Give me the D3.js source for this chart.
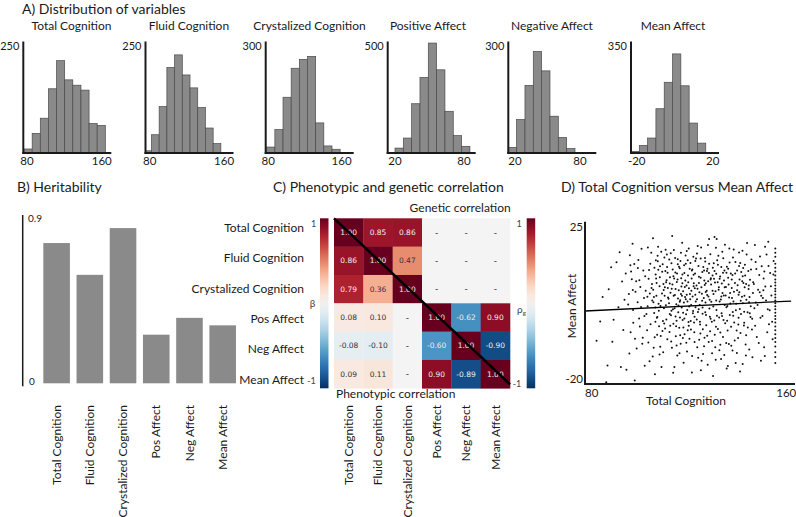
<!DOCTYPE html>
<html><head><meta charset="utf-8">
<script src="https://cdn.jsdelivr.net/npm/d3@7"></script>
<style>
body{margin:0;background:#fff}
svg{display:block}
text{font-family:Lato,"Open Sans",sans-serif;fill:#1a1a1a}
</style>
</head><body>
<svg id="chart" width="796" height="517"></svg>
<script>
// ---------------- DATA ----------------
const histTitles = ["Total Cognition","Fluid Cognition","Crystalized Cognition","Positive Affect","Negative Affect","Mean Affect"];
const histTickLabels = [[80,160],[80,160],[80,160],[20,80],[20,80],[-20,20]];
const histYMax = [250,250,300,500,300,350];
const histDomains = [[76,170.2],[75.4,170.1],[77.2,173.2],[13.65,90.2],[13.8,95.1],[-23,23.3]];
const histBinStart = [76.8,73.5,78.3,20,13.8,-23];
const histBinWidth = [8.7,8.3,8.9,7.24,7.7,4.37];
const histCounts = [
  [9,44,78,144,207,164,152,141,66,62],
  [5,41,104,192,220,175,146,102,56,21],
  [16,63,150,228,252,260,81,19,10],
  [22,67,221,339,493,373,187,78,30],
  [15,90,182,273,221,99,42,12],
  [5,24,47,139,222,311,211,94,31]
];

const heritLabels = ["Total Cognition","Fluid Cognition","Crystalized Cognition","Pos Affect","Neg Affect","Mean Affect"];
const heritValues = [0.75,0.58,0.83,0.26,0.35,0.31];
const heritTicks = [0,0.9];

const corrRowLabels = ["Total Cognition","Fluid Cognition","Crystalized Cognition","Pos Affect","Neg Affect","Mean Affect"];
const corrColLabels = ["Total Cognition","Fluid Cognition","Crystalized Cognition","Pos Affect","Neg Affect","Mean Affect"];
// upper triangle: genetic correlation, lower triangle: phenotypic correlation, null = "-"
const corrMatrix = [
  [1.00, 0.85, 0.86, null, null, null],
  [0.86, 1.00, 0.47, null, null, null],
  [0.79, 0.36, 1.00, null, null, null],
  [0.08, 0.10, null, 1.00, -0.62, 0.90],
  [-0.08, -0.10, null, -0.60, 1.00, -0.90],
  [0.09, 0.11, null, 0.90, -0.89, 1.00]
];

const scatterXTicks = [80,160];
const scatterYTicks = [25,-20];
const regression = {x0: 80, intercept: 0.19, slope: 0.0347};
const scatterPoints = [
[82,-8.7],[84.5,4.2],[83.5,-3],
[86,-21],[86.5,-16],[87,6.5],[88,13],[89,-2.5],[90.2,14.5],[91,1.2],[92,-16.5],[92.5,8.8],[93,-5.5],[93.5,3.4],[94,11.2],[88.5,-9],[91.5,17.5],
[94.3,-17.3],[95,2],[95.7,16.6],[96,-6.2],[96.5,9.5],[97,0.4],[97.7,-20.5],[98,5.8],[98.5,-11],[99,12.8],[99.5,-2.1],[100,7.2],[100.5,18.5],[101,-7.8],[101.5,3.9],[101.8,-16.1],[102,10.4],[102.5,-0.8],[95.5,-12.5],[97.5,14],[99.8,-4.5],[102.2,6.1],[96.8,20],
[103,1.5],[103.3,-9.2],[103.6,12.2],[103.9,5.3],[104.2,-3.8],[104.5,17.3],[104.8,8.1],[105.1,-13.4],[105.4,2.7],[105.7,-0.5],[106,-18.6],[106.3,10.9],[106.6,4.6],[106.9,-6.9],[107.2,14.8],[107.3,19.1],[107.6,0.2],[107.9,7.4],[108.2,-10.5],[108.5,3.1],[108.7,-16.5],[109,11.7],[109.3,-2.9],[109.6,6.3],[109.9,15.9],[110.2,-5.1],[110.5,1.8],[110.8,9.2],[111.1,-8.3],[111.4,4.1],[103.8,-14.8],[105.2,21.6],[106.8,-1.9],[108.1,13.3],[109.4,-12.1],[110.6,8.6],[104.6,6.9],[107.7,-4.4],[110.9,16.8],[105.9,-7.7],
[111.8,2.4],[112,-6.1],[112.2,10.1],[112.4,5.5],[112.6,-1.2],[112.8,14.2],[113,-10.8],[113.2,7.9],[113.4,0.6],[113.6,-3.7],[113.8,18.1],[114,-16.5],[114.2,4.8],[114.4,11.5],[114.6,-7.4],[114.8,2.1],[115,8.7],[115.2,-13.1],[115.4,15.4],[115.6,-0.3],[115.8,6.2],[116,-4.9],[116.2,12.7],[116.4,3.3],[116.6,-9.6],[116.8,9.8],[117,1.1],[117.2,20.3],[117.4,-2.6],[117.6,5.9],[117.8,-15.2],[118,13.6],[118.2,-6.8],[118.4,4.2],[118.6,16.5],[118.8,-0.9],[119,7.6],[119.2,-11.9],[119.4,2.9],[119.6,10.6],[119.8,-3.2],[120,6.8],[120.2,-8.1],[112.5,17.2],[113.5,-18.2],[114.5,-1.5],[115.5,3.8],[116.5,14.9],[117.5,-7.9],[118.5,9.1],[119.5,-5.6],[113.1,22.3],[114.1,0.9],[115.1,11.2],[116.1,-12.4],[117.1,4.6],[118.1,-2.1],[119.1,17.8],[120.1,1.4],[112.3,-4.3],[116.9,7.3],
[120.5,3.6],[120.8,-5.4],[121.2,-18.1],[121.4,12.4],[121.7,0.1],[122,8.3],[122.3,-9.1],[122.6,4.9],[122.9,15.6],[123.2,-2.4],[123.5,6.7],[123.8,-13.7],[124.1,10.2],[124.4,1.9],[124.7,-6.6],[125,18.9],[125.3,5.2],[125.6,-0.7],[125.9,13.1],[126.2,-10.3],[126.5,7.8],[126.8,2.6],[127.1,-4.1],[127.4,11.9],[127.7,-15.8],[128,4.4],[128.3,21.4],[128.6,-1.6],[128.9,9.4],[121,6.1],[122.1,-3.3],[123.3,17.1],[124.2,-8.4],[125.4,3.1],[126.6,15.8],[127.5,-7.2],[128.4,0.8],[121.9,10.8],[123.7,-0.2],[125.8,-12.6],[127.9,8.9],[120.6,14.3],[122.7,1.2],[124.9,-17.4],[126.9,5.7],[128.7,-5.9],
[129.2,2.8],[129.5,-8.8],[129.8,12.9],[130.1,5.1],[130.5,22],[130.4,-2.7],[130.7,8.5],[131,-14.3],[131.3,0.4],[131.6,15.1],[131.9,-5.2],[132.2,6.4],[132.5,-11.5],[132.8,10.3],[133.1,3.5],[133.4,-0.6],[133.7,17.6],[134,-7.6],[134.3,4.7],[134.6,12.1],[134.9,-3.5],[135.2,7.2],[135.5,-16.9],[135.8,1.6],[136,-16.2],[136.1,9.9],[136.4,-9.7],[136.7,14.4],[137,2.3],[137.3,-4.6],[137.6,6.9],[129.9,-19.1],[131.1,18.8],[132.4,-1.8],[133.5,8.2],[134.5,-12.9],[135.4,11.4],[136.5,4.1],[130.3,9.6],[132.9,-6.3],[134.8,19.7],[137.4,-10.2],
[137.9,10.7],[138.2,-1.3],[138.5,5.8],[138.8,-8.6],[139.1,14.6],[139.4,2.2],[139.7,-12.3],[140,7.7],[140.3,-3.9],[140.6,17.4],[140.9,0.7],[141.2,-6.4],[141.5,11.6],[141.8,4.3],[142.1,-15.6],[142.4,8.4],[142.7,-0.1],[143,13.8],[143.3,-9.8],[143.6,3.4],[143.9,20.2],[144.2,-4.8],[144.5,6.6],[144.8,-11.3],[145.1,9.3],[145.4,1.5],[145.7,15.3],[146,-2.2],[146.3,5.4],[138.4,18.3],[139.6,-5.7],[141,-17.8],[142.3,12.8],[143.5,-7.1],[144.7,2.7],[146.1,-13.6],[140.4,4.9],[142.9,7.1],[145.3,-1.7],
[146.7,8.1],[147.2,-4.3],[147.7,12.5],[148.2,1.9],[148.7,-9.4],[149.2,16.2],[149.7,4.6],[150.2,-1.4],[150.7,9.7],[151.2,-13.2],[151.3,19.1],[151.7,3.2],[152.2,-6.2],[152.7,13.4],[153.2,0.3],[153.7,7.4],[154.2,-3.1],[154.7,10.9],
[155.5,17.3],[155.5,14.1],[155.5,11.8],[155.5,9.4],[155.5,7.6],[155.5,5.9],[155.5,4.1],[155.5,2.4],[155.5,0.6],[155.5,-1.4],[155.5,-3.3],[155.5,-5.6],[155.5,-7.9],[155.5,-10.4],[155.5,-13.5],[155.5,3.2],[155.5,-0.4],
[95.3,5.1],[96.2,11.8],[97.1,-3.4],[98.3,8.9],[99.2,15.2],[100.3,1.3],[101.2,12.1],[102.8,-5.6],[103.4,9.6],[104.1,14.1],[104.9,3.2],[100.8,-9.6],[98.9,2.7],[96.9,6.3],[103.1,18.9],[99.6,9.2],[101.7,-1.4],[102.9,4.3],[97.8,-8.1],[95.9,13.6],
[105.3,6.4],[105.8,12.9],[106.2,-3.1],[106.7,8.4],[107.1,16.4],[107.5,2.2],[108,10.1],[108.4,-7.3],[108.9,5.3],[109.2,13.9],[109.7,0.9],[110.1,7.1],[110.4,18.2],[110.7,-2.4],[111.2,11.4],[111.6,3.7],[112.1,8.2],[112.7,-8.9],[113.3,12.4],[113.7,4.6],[114.3,15.8],[114.7,-4.4],[115.3,9.4],[115.7,1.7],[105.5,-10.8],[106.4,15.1],[107.9,-12.8],[109.1,-5.8],[110,4.6],[111,13.1],[112.9,6.7],[114.9,-10.1],[106.1,1.1],[108.6,17.6],[113.9,9.7],
[115.9,13.2],[116.3,-1.8],[116.7,5.1],[117.3,10.9],[117.7,-4.8],[118.3,7.2],[118.7,14.1],[119.3,0.4],[119.7,8.6],[120.3,12.6],[120.7,-2.9],[121.1,9.7],[121.5,4.4],[121.8,16.1],[122.2,-6.2],[122.5,11.2],[122.8,2.9],[123.1,7.6],[123.4,-10.6],[123.9,13.4],[124.3,5.6],[124.6,-3.9],[124.8,9.9],[116.4,-7.1],[117.9,2.6],[119.9,18.6],[121.3,-13.2],[122.4,6.8],[124,0.6],[118.9,-9.3],[120.9,1.9],[123.6,19.3],[116.7,17.3],[119.1,4.9],[121.6,-0.6],
[125.1,7.1],[125.5,11.6],[125.7,-5.3],[126.1,3.9],[126.3,9.1],[126.7,14.7],[127,-1.1],[127.3,6.1],[127.6,12.6],[128.1,-9.1],[128.5,3.4],[128.8,16.9],[129.1,7.9],[129.4,-3.1],[129.7,10.6],[130,1.4],[130.2,14.2],[130.6,-6.9],[130.9,5.9],[131.2,11.1],[131.5,-1.3],[131.8,8.6],[132.1,16.4],[132.6,2.9],[132.9,-9.9],[133.3,13.1],[133.8,5.4],[134.2,-2.6],[134.4,9.1],[134.7,1.9],[125.2,-14.6],[126.4,-7.8],[127.8,19.6],[129.5,-12.4],[131.4,21.4],[133.2,-14.1],[128.2,11.3],[130.8,-10.6],[132.3,7.1],[134.1,15.7],
[135.1,4.7],[135.6,13.2],[135.9,-5.7],[136.3,7.9],[136.8,-1.1],[137.2,11.2],[137.7,3.9],[138.1,15.9],[138.6,-3.3],[138.9,8.4],[139.3,0.3],[139.8,12.1],[140.2,-7.9],[140.7,5.6],[141.1,14.3],[141.4,-0.8],[141.9,8.9],[142.2,2.4],[142.6,-4.2],[143.1,10.6],[143.7,16.8],[144.1,-0.3],[144.4,11.9],[144.9,4.2],[135.3,-9.4],[136.6,18.6],[137.9,-11.6],[139.2,-15.3],[140.8,9.4],[142,17.9],[143.4,-13.1],[144.6,7.6],
[145.5,12.4],[145.9,-5.4],[146.4,8.6],[146.9,0.9],[147.4,14.6],[147.9,-7.6],[148.4,6.4],[148.9,10.7],[149.4,-1.9],[149.9,13.3],[150.4,3.9],[150.9,-10.6],[151.4,7.3],[151.9,16.8],[152.4,0.6],[152.9,-3.8],[153.4,11.3],[153.9,4.7],[154.4,-8.3],[154.8,14.9],[147.1,19.6],[149.6,-14.6],[152.6,20.6],[150.6,6.2],
[155.5,16.1],[155.5,12.9],[155.5,10.6],[155.5,8.5],[155.5,6.7],[155.5,5],[155.5,1.5],[155.5,-2.3],[155.5,-4.5],[155.5,-6.8],[155.5,-9.1],[155.5,-12.1],[155.5,-15.3],[155.5,18.6],
[105.6,4.2],[106.5,9.7],[107.4,12.3],[108.3,1.6],[109.5,8.1],[110.3,11.9],[111.3,6.9],[111.9,15.3],[112.8,0.2],[113.6,10.4],[114.5,6.6],[115.4,13.9],[116.2,2.8],[117.3,8.3],[118.1,11.3],[118.7,3.6],[119.5,15.1],[120.4,5.1],[121.2,12.1],[121.9,7.4],[122.6,14.9],[123.3,3.6],[124.1,8.4],[124.8,15.6],[125.6,1.1],[126.2,12.1],[126.9,8.3],[127.5,4.8],[128.3,14.1],[129,9.8],[129.7,6.1],[130.5,11.9],[131.2,3.2],[131.9,13.8],[132.6,9.6],[133.3,4.4],[134,11.4],[134.7,7.1],[135.4,1.2],[136.1,12.6],[136.9,5.4],[137.6,9.4],[138.3,2.9],[139,11.2],[139.8,6.2],[140.6,13.4],[141.3,3.1],[142.1,10.4],[142.8,4.6],[143.5,8.1],
[107,-1.7],[109.8,-3.6],[112.1,-0.8],[114.9,-2.8],[117.6,-0.4],[119.9,-4.3],[122.3,-1.6],[124.5,-3.1],[126.7,-0.3],[128.9,-2.2],[131.1,-4.6],[133.6,-1.4],[135.7,-2.8],[138,-0.2],[140.4,-1.9],[142.7,-3.4],[145,-0.6],[147.5,2.6],[149.1,5.6],[151,11.8]
];

// ---------------- DRAWING ----------------
const svg = d3.select("#chart");
const ink = "#1a1a1a";

function txt(g, x, y, s, size, anchor) {
  return g.append("text").attr("x", x).attr("y", y).attr("font-size", size)
    .attr("text-anchor", anchor || "start").text(s);
}

// Panel titles
txt(svg, 22, 13.5, "A) Distribution of variables", 14);
txt(svg, 17, 192, "B) Heritability", 14);
txt(svg, 273, 192, "C) Phenotypic and genetic correlation", 14);
txt(svg, 561, 192, "D) Total Cognition versus Mean Affect", 14);

// ---- Panel A: histograms ----
const HIST_TOP = 41.5, HIST_BASE = 153, HIST_W = 88;
const histLeft = [23.3, 145.5, 265.7, 387.7, 508.3, 631];
const histTitleX = [71.5, 189, 309.5, 428, 552, 673];

histTitles.forEach((title, i) => {
  const g = svg.append("g");
  const x = d3.scaleLinear().domain(histDomains[i]).range([histLeft[i], histLeft[i] + HIST_W]);
  const y = d3.scaleLinear().domain([0, histYMax[i]]).range([HIST_BASE, HIST_TOP]);
  const bins = histCounts[i].map((c, k) => ({
    x0: Math.max(histBinStart[i] + k * histBinWidth[i], histDomains[i][0]),
    x1: histBinStart[i] + (k + 1) * histBinWidth[i],
    c
  }));
  g.selectAll("rect").data(bins).join("rect")
    .attr("x", d => x(d.x0)).attr("width", d => x(d.x1) - x(d.x0))
    .attr("y", d => y(d.c)).attr("height", d => y(0) - y(d.c))
    .attr("fill", "#8a8a8a").attr("stroke", "#4a4a4a").attr("stroke-width", 0.7);
  g.append("line").attr("x1", x.range()[0]).attr("x2", x.range()[0])
    .attr("y1", y(histYMax[i])).attr("y2", y(0) + 1).attr("stroke", ink).attr("stroke-width", 2);
  g.append("line").attr("x1", x.range()[0] - 1).attr("x2", x.range()[1])
    .attr("y1", y(0)).attr("y2", y(0)).attr("stroke", ink).attr("stroke-width", 2);
  txt(g, x.range()[0] - 4, y(histYMax[i]) + 8.5, String(histYMax[i]), 11, "end");
  histTickLabels[i].forEach(t => txt(g, x(t), 165, String(t), 11.5, "middle"));
  txt(g, histTitleX[i], 30, title, 12, "middle");
});

// ---- Panel B: heritability ----
{
  const g = svg.append("g");
  const x = d3.scaleBand().domain(heritLabels).range([40, 239.3]).paddingInner(0.2).paddingOuter(0.1);
  const y = d3.scaleLinear().domain([0, 0.9]).range([383.3, 215]);
  g.selectAll("rect").data(heritValues).join("rect")
    .attr("x", (d, i) => x(heritLabels[i])).attr("width", x.bandwidth())
    .attr("y", d => y(d)).attr("height", d => y(0) - y(d))
    .attr("fill", "#8a8a8a");
  g.append("line").attr("x1", 22.7).attr("x2", 22.7).attr("y1", y(0.9)).attr("y2", y(0) + 3)
    .attr("stroke", ink).attr("stroke-width", 1.5);
  txt(g, 28, y(0.9) + 6.5, "0.9", 10);
  txt(g, 29, y(0) + 1.7, "0", 10);
  heritLabels.forEach(l => {
    g.append("text").attr("transform", `translate(${x(l) + x.bandwidth() / 2},405) rotate(-90)`)
      .attr("text-anchor", "end").attr("dy", "0.35em").attr("font-size", 12).text(l);
  });
}

// ---- Panel C: correlation heatmap ----
{
  const g = svg.append("g");
  const x = d3.scaleBand().domain(d3.range(6)).range([334, 510]);
  const y = d3.scaleBand().domain(d3.range(6)).range([218.3, 388.3]);
  const color = v => d3.interpolateRdBu((1 - v) / 2);
  const cells = [];
  corrMatrix.forEach((row, r) => row.forEach((v, c) => cells.push({r, c, v})));
  g.selectAll("rect.cell").data(cells).join("rect").attr("class", "cell")
    .attr("x", d => x(d.c)).attr("y", d => y(d.r))
    .attr("width", x.bandwidth() + 0.3).attr("height", y.bandwidth() + 0.3)
    .attr("fill", d => d.v === null ? "#f4f4f4" : color(d.v));
  g.selectAll("text.val").data(cells).join("text").attr("class", "val")
    .attr("x", d => x(d.c) + x.bandwidth() / 2).attr("y", d => y(d.r) + y.bandwidth() / 2)
    .attr("dy", "0.35em").attr("text-anchor", "middle")
    .style("font-family", "'DejaVu Sans',sans-serif")
    .attr("font-size", d => d.v === null ? 9 : 7.5)
    .style("fill", d => (d.v !== null && Math.abs(d.v) >= 0.6) ? "#eeeeee" : "#333333")
    .text(d => d.v === null ? "-" : d.v.toFixed(2));
  // diagonal line
  g.append("line").attr("x1", x.range()[0]).attr("y1", y.range()[0])
    .attr("x2", x.range()[1]).attr("y2", y.range()[1] - 4)
    .attr("stroke", "#000").attr("stroke-width", 2.5);

  // row labels
  const ry = d3.scalePoint().domain(corrRowLabels).range([232, 383.7]);
  corrRowLabels.forEach(l => txt(g, 304, ry(l), l, 12, "end"));
  // column labels
  corrColLabels.forEach((l, i) => {
    g.append("text").attr("transform", `translate(${x(i) + x.bandwidth() / 2},405) rotate(-90)`)
      .attr("text-anchor", "end").attr("dy", "0.35em").attr("font-size", 12).text(l);
  });
  txt(g, 510.7, 212, "Genetic correlation", 12, "end");
  txt(g, 336, 398, "Phenotypic correlation", 12, "start");

  // colorbars
  const defs = svg.append("defs");
  const grad = defs.append("linearGradient").attr("id", "rdbu")
    .attr("x1", 0).attr("y1", 0).attr("x2", 0).attr("y2", 1);
  d3.range(0, 1.0001, 0.05).forEach(t => grad.append("stop")
    .attr("offset", t).attr("stop-color", d3.interpolateRdBu(t)));
  const cbY = d3.scaleLinear().domain([1, -1]).range([218.3, 388.3]);
  [[320, 313.5], [526.7, 519]].forEach(([cx, lx], k) => {
    g.append("rect").attr("x", cx).attr("y", cbY(1)).attr("width", 8.5)
      .attr("height", cbY(-1) - cbY(1)).attr("fill", "url(#rdbu)");
    txt(g, lx, cbY(1) + 9, "1", 9, "middle").style("fill", "#444");
    txt(g, lx - 2, cbY(-1) - 4 + k * 3, "-1", 9, "middle").style("fill", "#444");
  });
  txt(g, 312.5, 307, "β", 10, "middle").style("fill", "#444");
  const rho = txt(g, 517, 313, "ρ", 10, "start").style("fill", "#444");
  rho.append("tspan").attr("font-size", 6).attr("dy", 2).text("g");
}

// ---- Panel D: scatter ----
{
  const g = svg.append("g");
  const x = d3.scaleLinear().domain([77.25, 163.6]).range([585, 795]);
  const y = d3.scaleLinear().domain([-21.5, 26.5]).range([384, 221.7]);
  g.selectAll("circle").data(scatterPoints).join("circle")
    .attr("cx", d => x(d[0])).attr("cy", d => y(d[1])).attr("r", 1).attr("fill", "#111");
  const lx = [77.25, 162];
  g.append("line")
    .attr("x1", x(lx[0])).attr("y1", y(regression.intercept + regression.slope * (lx[0] - regression.x0)))
    .attr("x2", x(lx[1])).attr("y2", y(regression.intercept + regression.slope * (lx[1] - regression.x0)))
    .attr("stroke", "#000").attr("stroke-width", 1.3);
  g.append("line").attr("x1", 585).attr("x2", 585).attr("y1", y.range()[1]).attr("y2", y.range()[0] + 1)
    .attr("stroke", ink).attr("stroke-width", 2);
  g.append("line").attr("x1", 584).attr("x2", 795).attr("y1", y.range()[0]).attr("y2", y.range()[0])
    .attr("stroke", ink).attr("stroke-width", 2);
  scatterYTicks.forEach(t => txt(g, 583, y(t) + 4, String(t), 11.5, "end"));
  scatterXTicks.forEach(t => txt(g, x(t), 396.5, String(t), 11.5, "middle"));
  txt(g, 686, 405, "Total Cognition", 12, "middle");
  g.append("text").attr("transform", "translate(571.7,306) rotate(-90)")
    .attr("text-anchor", "middle").attr("dy", "0.35em").attr("font-size", 12).text("Mean Affect");
}
</script>
</body></html>
